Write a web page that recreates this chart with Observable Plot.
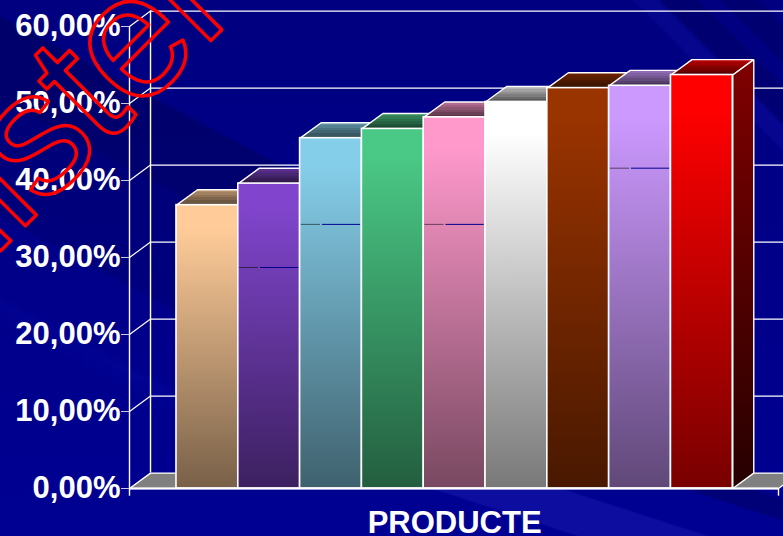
<!DOCTYPE html>
<html lang="ca">
<head>
<meta charset="utf-8">
<title>PRODUCTE</title>
<script src="https://cdn.jsdelivr.net/npm/d3@7"></script>
<script src="https://cdn.jsdelivr.net/npm/@observablehq/plot@0.6"></script>
<style>
  html, body { margin: 0; padding: 0; width: 783px; height: 536px; overflow: hidden; }
  body {
    background-color: #000088;
    background-repeat: no-repeat;
    background-image:
      linear-gradient(198deg, transparent 8px, rgba(0,0,60,.3) 12px, rgba(0,0,60,.3) 30px, transparent 32px, transparent 68px, rgba(40,40,190,.32) 70px, rgba(40,40,190,.32) 108px, transparent 110px),
      linear-gradient(225deg, transparent 16px, rgba(0,0,50,.2) 20px, rgba(0,0,50,.2) 42px, transparent 46px, transparent 58px, rgba(0,0,50,.2) 62px, rgba(0,0,50,.2) 86px, rgba(30,30,190,.2) 90px, rgba(30,30,190,.2) 104px, transparent 108px),
      linear-gradient(208deg, transparent 153px, rgba(0,0,50,.28) 157px, rgba(0,0,50,.28) 227px, rgba(0,0,50,.14) 231px, rgba(0,0,50,.14) 330px, transparent 335px, transparent 400px, rgba(20,20,190,.14) 408px, transparent 428px),
      linear-gradient(180deg, #000080, #000092);
    background-size: 483px 48px, 250px 200px, 300px 536px, 783px 536px;
    background-position: 300px 488px, 533px 0, 0 0, 0 0;
  }
  svg { display: block; }
  .stamp text { letter-spacing: -3px; }
</style>
</head>
<body>
<script>
// Share of each product, one column per category
const products = ["A", "B", "C", "D", "E", "F", "G", "H", "I"];
const shares = [36.8, 39.6, 45.5, 46.7, 48.2, 50.2, 52.0, 52.3, 53.7];
const faceColors = ["#FFCC99", "#8045CC", "#85CEE9", "#4AC885", "#FF99CC", "#FFFFFF", "#993300", "#CC99FF", "#FF0000"];

const yTicks = [0, 10, 20, 30, 40, 50, 60];
const axisTitle = "PRODUCTE";
const stamp = "ulster";

// Thin leader strokes that cross some of the columns
const leaderBars = [1, 2, 4, 7];
const leaderValues = [28.7, 34.3, 34.3, 41.6];

// Depth of the 3D box, in x categories and y percentage points
const depthX = 0.34;
const depthY = 2;
const wallX = -0.76;
const floorEnd = 9.74;

function shade(color, k) {
  const c = d3.rgb(color);
  return d3.rgb(c.r * k, c.g * k, c.b * k).formatHex();
}

// Gradients for the faces of the columns
function gradients() {
  const ns = "http://www.w3.org/2000/svg";
  const defs = document.createElementNS(ns, "defs");
  const add = (id, stops) => {
    const g = document.createElementNS(ns, "linearGradient");
    g.setAttribute("id", id);
    g.setAttribute("x1", 0); g.setAttribute("y1", 0);
    g.setAttribute("x2", 0); g.setAttribute("y2", 1);
    for (const [offset, color] of stops) {
      const s = document.createElementNS(ns, "stop");
      s.setAttribute("offset", offset);
      s.setAttribute("stop-color", color);
      g.appendChild(s);
    }
    defs.appendChild(g);
  };
  faceColors.forEach((c, i) => {
    add(`front${i}`, [[0, c], [0.08, c], [1, shade(c, 0.47)]]);
    // the top faces fade in visible steps
    const steps = [];
    d3.range(6).forEach((n) => {
      const k = 0.7 - n * 0.07;
      steps.push([n / 6, shade(c, k)], [(n + 1) / 6, shade(c, k)]);
    });
    add(`top${i}`, steps);
    add(`side${i}`, [[0, shade(c, 0.5)], [1, shade(c, 0.15)]]);
  });
  return defs;
}

function face(points, fill) {
  return Plot.line([...points, points[0]], {
    x: "x", y: "y", fill, stroke: "white", strokeWidth: 1.4,
    curve: "linear", strokeLinejoin: "miter"
  });
}

const columns = products.map((_, i) => {
  const v = shares[i];
  const marks = [
    face([
      {x: i, y: v}, {x: i + depthX, y: v + depthY},
      {x: i + 1 + depthX, y: v + depthY}, {x: i + 1, y: v}
    ], `url(#top${i})`)
  ];
  if (i === products.length - 1) {
    marks.push(face([
      {x: i + 1, y: 0}, {x: i + 1 + depthX, y: depthY},
      {x: i + 1 + depthX, y: v + depthY}, {x: i + 1, y: v}
    ], `url(#side${i})`));
  }
  marks.push(Plot.rect([i], {
    x1: (d) => d, x2: (d) => d + 1, y1: 0, y2: v,
    fill: `url(#front${i})`, stroke: "white", strokeWidth: 1.6
  }));
  const l = leaderBars.indexOf(i);
  if (l >= 0) {
    const y = leaderValues[l];
    marks.push(
      Plot.ruleY([y], {x1: i + 0.02, x2: i + 0.33, stroke: shade(faceColors[i], 0.42), strokeWidth: 1}),
      Plot.ruleY([y], {x1: i + 0.36, x2: i + 0.98, stroke: "#000090", strokeWidth: 1})
    );
  }
  return marks;
});

const chart = Plot.plot({
  width: 783,
  height: 536,
  marginTop: 26,
  marginBottom: 48,
  marginLeft: 129,
  marginRight: 5,
  style: {background: "transparent", fontFamily: "'Liberation Sans', Arial, sans-serif"},
  x: {domain: [wallX, floorEnd], axis: null},
  y: {domain: [0, 60], axis: null},
  marks: [
    gradients,
    // back wall and the struts joining it to the front axis
    Plot.ruleY(yTicks.slice(1), {
      y: (d) => d + depthY, x1: wallX + depthX, x2: floorEnd + depthX,
      stroke: "white", strokeWidth: 1.2
    }),
    Plot.link(yTicks.slice(1), {
      x1: wallX, y1: (d) => d, x2: wallX + depthX, y2: (d) => d + depthY,
      stroke: "white", strokeWidth: 1.2
    }),
    Plot.ruleX([wallX + depthX], {y1: depthY, y2: 60 + depthY, stroke: "white", strokeWidth: 1.4}),
    Plot.ruleX([wallX], {y1: -1, y2: 60, stroke: "white", strokeWidth: 1.4}),
    Plot.ruleX([floorEnd], {y1: -1, y2: 0, stroke: "white", strokeWidth: 1.4}),
    // floor
    face([
      {x: wallX, y: 0}, {x: wallX + depthX, y: depthY},
      {x: floorEnd + depthX, y: depthY}, {x: floorEnd, y: 0}
    ], "#808080"),
    columns,
    Plot.ruleY([0], {x1: wallX, x2: floorEnd, stroke: "white", strokeWidth: 2}),
    Plot.axisY(yTicks, {
      anchor: "left",
      label: null,
      tickSize: 8,
      tickPadding: 1,
      stroke: "#c8c8e0",
      fill: "white",
      fontSize: 31,
      fontWeight: "bold",
      tickFormat: (d) => `${d},00%`
    }),
    Plot.text([axisTitle], {
      x: 4.5, y: -4.55, text: (d) => d,
      fill: "white", fontSize: 31, fontWeight: "bold", textAnchor: "middle"
    }),
    // rubber stamp across the upper left corner
    Plot.text([stamp], {
      x: -1.95, y: 48.4, text: (d) => d,
      rotate: -45, fontSize: 176, className: "stamp",
      fontFamily: "'Liberation Sans', Arial, sans-serif",
      fill: "none", stroke: "red", strokeWidth: 3.5, textAnchor: "middle"
    })
  ]
});
document.body.appendChild(chart);
</script>
</body>
</html>
